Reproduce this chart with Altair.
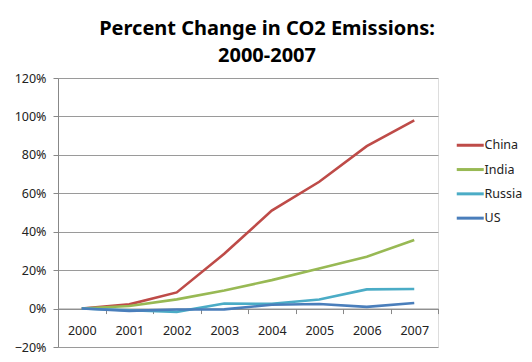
import altair as alt
import pandas as pd

years = ["2000", "2001", "2002", "2003", "2004", "2005", "2006", "2007"]
china = [0.0, 2.2, 8.4, 28.5, 51.0, 66.0, 84.5, 98.0]
india = [0.0, 1.3, 4.8, 9.4, 14.8, 20.8, 27.0, 35.7]
russia = [0.0, -0.9, -1.7, 2.6, 2.5, 4.7, 10.0, 10.2]
us = [0.0, -1.2, -0.5, -0.4, 2.0, 2.4, 0.9, 2.9]
countries = ["China", "India", "Russia", "US"]
colors = ["#BE4B48", "#98B954", "#4BACC6", "#4A7EBB"]

rows = []
for name, vals in zip(countries, [china, india, russia, us]):
    for y, v in zip(years, vals):
        rows.append({"Year": y, "Country": name, "Change": v / 100.0})
df = pd.DataFrame(rows)

FONT = "Noto Sans"
W, H = 380, 269

chart = alt.Chart(df).mark_line(strokeWidth=2.6).encode(
    x=alt.X("Year:O",
            bandPosition=0.5,
            scale=alt.Scale(type="band", paddingInner=0, paddingOuter=0),
            axis=alt.Axis(title=None, labelAngle=0, offset=-H * 20 / 140,
                          tickBand="extent", tickSize=5, tickColor="#888888",
                          domainColor="#888888", labelPadding=11,
                          labelFontSize=12.5, labelColor="#222222", labelFont=FONT,
                          grid=False)),
    y=alt.Y("Change:Q",
            scale=alt.Scale(domain=[-0.2, 1.2], nice=False),
            axis=alt.Axis(title=None, format=".0%", values=[-0.2, 0, 0.2, 0.4, 0.6, 0.8, 1.0, 1.2],
                          tickSize=5, tickColor="#888888", domainColor="#888888",
                          gridColor="#9a9a9a", labelPadding=7,
                          labelFontSize=12.5, labelColor="#222222", labelFont=FONT)),
    color=alt.Color("Country:N",
                    scale=alt.Scale(domain=countries, range=colors),
                    legend=alt.Legend(title=None, orient="none", legendX=406, legendY=61,
                                      symbolType="M-3,0H3", symbolSize=81,
                                      symbolStrokeWidth=3, labelOffset=8,
                                      rowPadding=11.3, labelFontSize=12.5,
                                      labelFont=FONT, labelColor="#222222")),
).properties(
    width=W,
    height=H,
    title=alt.TitleParams(text=["Percent Change in CO2 Emissions:", "2000-2007"],
                          font=FONT, fontSize=20, fontWeight="bold", color="#000000",
                          anchor="middle", dx=19, offset=6, lineHeight=27),
    autosize=alt.AutoSizeParams(type="none"),
    padding={"left": 50, "top": 70, "right": 86, "bottom": 7},
).configure_view(stroke=None).configure(background="white")

chart.save("out.html", embed_options={"renderer": "svg", "actions": False})
